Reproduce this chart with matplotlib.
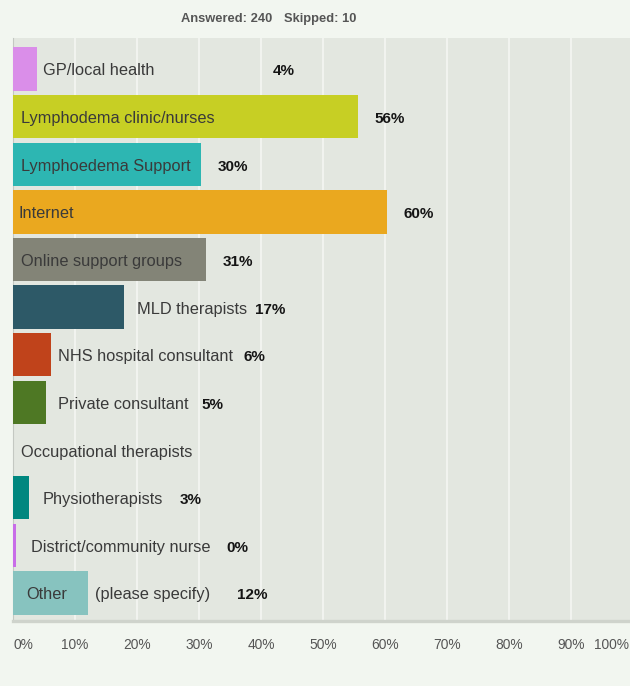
import matplotlib
matplotlib.use("Agg")
import matplotlib.pyplot as plt
from matplotlib import font_manager

# ---------------- data ----------------
categories = [
    "GP/local health",
    "Lymphodema clinic/nurses",
    "Lymphoedema Support",
    "Internet",
    "Online support groups",
    "MLD therapists",
    "NHS hospital consultant",
    "Private consultant",
    "Occupational therapists",
    "Physiotherapists",
    "District/community nurse",
    "Other (please specify)",
]
values = [3.8, 55.6, 30.4, 60.3, 31.2, 17.85, 6.2, 5.4, 0.0, 2.5, 0.45, 12.05]
pct_labels = ["4%", "56%", "30%", "60%", "31%", "17%", "6%", "5%", "", "3%", "0%", "12%"]
tick_values = [0, 10, 20, 30, 40, 50, 60, 70, 80, 90, 100]
answered = 240
skipped = 10

# ---------------- styles / layout ----------------
colors = ["#da8ee9", "#c7cf24", "#2db6b2", "#eaa81f", "#838477", "#2d5967",
          "#c0431b", "#4e7824", "#8fbcb6", "#00877f", "#c86de8", "#87c3bf"]
# text x-positions in pixels (name, second name part, percentage)
name_x_px = [43, 21, 21, 19, 21, 137, 58, 58, 21, 43, 31, 26]
name2_x_px = 95
pct_x_px = [273, 374, 218, 403, 223, 255, 244, 201, 0, 180, 226, 237]

W, H = 630, 686
AX_L, AX_R, AX_T, AX_B = 13, 630, 38, 621
PX_PER_PCT = 6.2
ROW_PX = 47.6
BASELINE_OFF = 6.5 / ROW_PX

names = {f.name for f in font_manager.fontManager.ttflist}
base_font = "Liberation Sans" if "Liberation Sans" in names else "DejaVu Sans"
hdr_font = "Liberation Sans Narrow" if "Liberation Sans Narrow" in names else base_font
hdr_size = 10.4 if hdr_font == "Liberation Sans Narrow" else 9.3
plt.rcParams["font.family"] = [base_font, "DejaVu Sans"]

fig_bg = "#f2f6f0"
ax_bg = "#e3e7e0"

fig = plt.figure(figsize=(W / 100, H / 100), dpi=100, facecolor=fig_bg)
ax = fig.add_axes([AX_L / W, (H - AX_B) / H, (AX_R - AX_L) / W, (AX_B - AX_T) / H])
ax.set_facecolor(ax_bg)

def px2x(px):
    return (px - AX_L) / PX_PER_PCT

n = len(categories)
ypos = list(range(n))
ax.barh(ypos, values, height=0.91, color=colors, zorder=3)

ax.set_xlim(0, px2x(AX_R))
ax.set_ylim(n - 1 + 0.59, -0.65)

ax.set_xticks(tick_values[1:-1])
ax.set_yticks([])
ax.grid(axis="x", color="#f3f5f1", linewidth=1.3, zorder=1)
ax.tick_params(axis="x", length=0, labelbottom=False)

for s in ["top", "right"]:
    ax.spines[s].set_visible(False)
ax.spines["left"].set_color("#c4c8c2")
ax.spines["left"].set_linewidth(0.8)
ax.spines["bottom"].set_color("#cfd3cc")
ax.spines["bottom"].set_linewidth(2.4)

name_color = "#3a3a3a"
name_size = 11.8
for i, (cat, pl) in enumerate(zip(categories, pct_labels)):
    yb = i + BASELINE_OFF
    if " (" in cat:
        a, b = cat.split(" (", 1)
        ax.text(px2x(name_x_px[i]), yb, a, va="baseline", ha="left",
                fontsize=name_size, color=name_color, zorder=4)
        ax.text(px2x(name2_x_px), yb, "(" + b, va="baseline", ha="left",
                fontsize=name_size, color=name_color, zorder=4)
    else:
        ax.text(px2x(name_x_px[i]), yb, cat, va="baseline", ha="left",
                fontsize=name_size, color=name_color, zorder=4)
    if pl:
        ax.text(px2x(pct_x_px[i]), yb, pl, va="baseline", ha="left",
                fontsize=11, fontweight="bold", color="#151515", zorder=4)

# x tick labels
tick_y = 1 - (645 - AX_T) / (AX_B - AX_T)
for t in tick_values:
    if t == 0:
        ax.text(px2x(14), tick_y, "0%", transform=ax.get_xaxis_transform(),
                ha="left", va="center", fontsize=9.9, color="#555555", clip_on=False)
    elif t == 100:
        ax.text(px2x(629), tick_y, "100%", transform=ax.get_xaxis_transform(),
                ha="right", va="center", fontsize=9.9, color="#555555", clip_on=False)
    else:
        ax.text(t, tick_y, f"{t}%", transform=ax.get_xaxis_transform(),
                ha="center", va="center", fontsize=9.9, color="#555555", clip_on=False)

# header
fig.text(272 / W, 1 - 19 / H, f"Answered: {answered}", ha="right", va="center",
         fontsize=hdr_size, fontweight="bold", color="#555555", family=[hdr_font, "DejaVu Sans"])
fig.text(284 / W, 1 - 19 / H, f"Skipped: {skipped}", ha="left", va="center",
         fontsize=hdr_size, fontweight="bold", color="#555555", family=[hdr_font, "DejaVu Sans"])

fig.savefig("out.png", dpi=100, facecolor=fig_bg)
